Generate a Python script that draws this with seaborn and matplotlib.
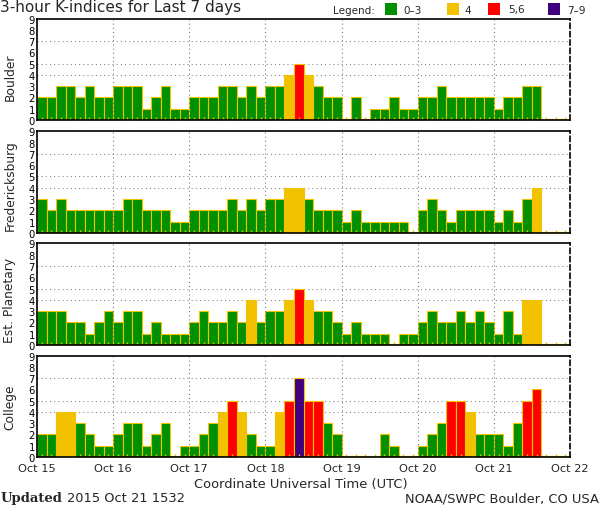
import numpy as np
import pandas as pd
import matplotlib
matplotlib.use("Agg")
import matplotlib.pyplot as plt
import seaborn as sns
from matplotlib.patches import Rectangle

# ---------------- data ----------------
day_labels = ["Oct 15", "Oct 16", "Oct 17", "Oct 18", "Oct 19", "Oct 20", "Oct 21", "Oct 22"]
stations = ["Boulder", "Fredericksburg", "Est. Planetary", "College"]

boulder = [2, 2, 3, 3, 2, 3, 2, 2,
           3, 3, 3, 1, 2, 3, 1, 1,
           2, 2, 2, 3, 3, 2, 3, 2,
           3, 3, 4, 5, 4, 3, 2, 2,
           0, 2, 0, 1, 1, 2, 1, 1,
           2, 2, 3, 2, 2, 2, 2, 2,
           1, 2, 2, 3, 3, 0, 0, 0]
fredericksburg = [3, 2, 3, 2, 2, 2, 2, 2,
                  2, 3, 3, 2, 2, 2, 1, 1,
                  2, 2, 2, 2, 3, 2, 3, 2,
                  3, 3, 4, 4, 3, 2, 2, 2,
                  1, 2, 1, 1, 1, 1, 1, 0,
                  2, 3, 2, 1, 2, 2, 2, 2,
                  1, 2, 1, 3, 4, 0, 0, 0]
planetary = [3, 3, 3, 2, 2, 1, 2, 3,
             2, 3, 3, 1, 2, 1, 1, 1,
             2, 3, 2, 2, 3, 2, 4, 2,
             3, 3, 4, 5, 4, 3, 3, 2,
             1, 2, 1, 1, 1, 0, 1, 1,
             2, 3, 2, 2, 3, 2, 3, 2,
             1, 3, 1, 4, 4, 0, 0, 0]
college = [2, 2, 4, 4, 3, 2, 1, 1,
           2, 3, 3, 1, 2, 3, 0, 1,
           1, 2, 3, 4, 5, 4, 2, 1,
           1, 4, 5, 7, 5, 5, 3, 2,
           0, 0, 0, 0, 2, 1, 0, 0,
           1, 2, 3, 5, 5, 4, 2, 2,
           2, 1, 3, 5, 6, 0, 0, 0]
series = [boulder, fredericksburg, planetary, college]

level_names = ["0-3", "4", "5,6", "7-9"]
level_colors = ["#009000", "#F2C200", "#FF0000", "#400080"]
edge_color = "#F2C200"


def level_of(k):
    if k <= 3:
        return "0-3"
    if k == 4:
        return "4"
    if k <= 6:
        return "5,6"
    return "7-9"


sns.set_theme(style="white")
plt.rcParams['font.family'] = ['DejaVu Sans']

W, H = 600, 510
fig = plt.figure(figsize=(W / 100, H / 100), dpi=100)
fig.patch.set_facecolor("white")


def rect(top, bottom, left=37, right=570):
    return [left / W, 1 - bottom / H, (right - left) / W, (bottom - top) / H]


panels = [(19.5, 121), (132.3, 234), (244.3, 346), (356.7, 458)]
label_y = [77, 186, 300, 407]
n = 56
palette = dict(zip(level_names, level_colors))

for i, (name, vals) in enumerate(zip(stations, series)):
    ax = fig.add_axes(rect(*panels[i]))
    df = pd.DataFrame({"slot": np.arange(n), "k": vals})
    df["shown"] = np.maximum(df["k"], 0.12)
    df["level"] = df["k"].map(level_of)
    sns.barplot(data=df, x="slot", y="shown", hue="level", hue_order=level_names,
                palette=palette, order=list(range(n)), dodge=False, width=1.0,
                saturation=1, edgecolor=edge_color, linewidth=0.8, legend=False,
                ax=ax, zorder=2, err_kws={'linewidth': 0})
    ax.set_xlim(-0.5, n - 0.5)
    ax.set_ylim(0, 9)
    ax.set_axisbelow(False)
    ax.set_xlabel("")
    ax.set_ylabel("")
    # horizontal grid (behind bars)
    for yv in (4, 5, 7):
        ax.axhline(yv, color="#808080", lw=0.75, ls=(0, (1, 3)), zorder=1)
    # vertical day boundaries (above bars)
    for d in range(1, 7):
        ax.axvline(d * 8 - 0.5, color="#707070", lw=0.75, ls=(0, (1, 3)), zorder=3)
    ax.set_yticks(range(10))
    ax.set_yticklabels([str(v) for v in range(10)])
    ax.tick_params(axis="y", length=0, pad=1.5, labelsize=7.2, colors="black")
    ax.set_xticks([d * 8 - 0.5 for d in range(8)])
    if i == 3:
        ax.set_xticklabels(day_labels)
        ax.tick_params(axis="x", which="major", length=0, pad=4, labelsize=8.2)
    else:
        ax.set_xticklabels([])
        ax.tick_params(axis="x", which="major", length=0)
    ax.set_xticks(np.arange(n), minor=True)
    ax.tick_params(axis="x", which="minor", direction="in", length=2.5,
                   width=1, color=edge_color, bottom=True)
    for s in ("left", "top", "bottom", "right"):
        ax.spines[s].set_color("black")
        ax.spines[s].set_linewidth(1.2)
        ax.spines[s].set_zorder(4)
    ax.spines["right"].set_linestyle((0, (3, 2)))
    fig.text(10 / W, 1 - label_y[i] / H, name, rotation=90, ha="center",
             va="center", fontsize=8.8)

# title and legend
fig.text(0 / W, 1 - 11.8 / H, "3-hour K-indices for Last 7 days", ha="left",
         va="baseline", fontsize=11)
fig.text(333 / W, 1 - 10.5 / H, "Legend:", ha="left", va="center", fontsize=7.5)
leg_sq = [385, 447, 488, 548]
leg_tx = [403, 464, 508, 567]
for name, col, sx, tx in zip(level_names, level_colors, leg_sq, leg_tx):
    fig.add_artist(Rectangle((sx / W, 1 - 16 / H), 12 / W, 12 / H,
                             transform=fig.transFigure, facecolor=col,
                             edgecolor="none"))
    fig.text(tx / W, 1 - 10.5 / H, name.replace("-", "\u2013"), ha="left",
             va="center", fontsize=7.5)

# bottom texts
fig.text(301 / W, 1 - 485 / H, "Coordinate Universal Time (UTC)", ha="center",
         va="center", fontsize=9.4)
fig.text(1 / W, 1 - 499 / H, "Updated", ha="left", va="center", fontsize=9.5,
         family="DejaVu Serif", weight="bold")
fig.text(67 / W, 1 - 499 / H, "2015 Oct 21 1532", ha="left", va="center",
         fontsize=9.4)
fig.text(599 / W, 1 - 499 / H, "NOAA/SWPC Boulder, CO USA", ha="right",
         va="center", fontsize=9.4)

fig.savefig("out.png", dpi=100, facecolor="white")
